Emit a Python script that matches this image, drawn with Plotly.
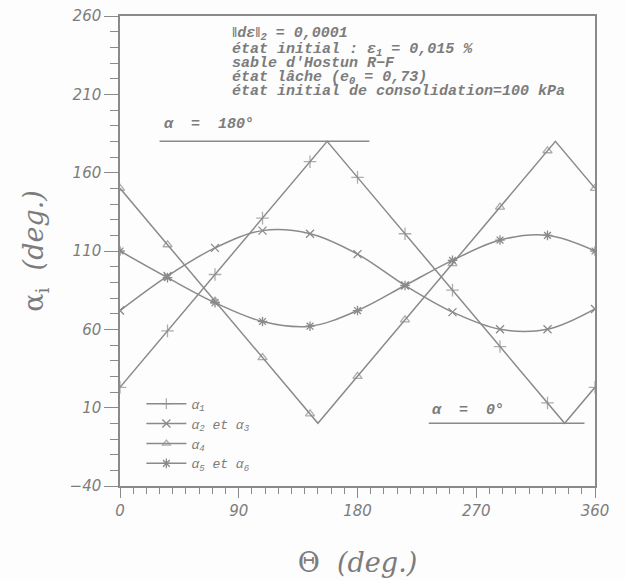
import plotly.graph_objects as go

# Loading direction Theta (deg.) at which the response directions were computed
theta_grid = [0, 36, 72, 108, 144, 180, 216, 252, 288, 324, 360]

# alpha_1 : piecewise linear, folds at 180 deg (Theta=157) and 0 deg (Theta=337)
theta_a1 = [0, 36, 72, 108, 144, 157, 180, 216, 252, 288, 324, 337, 360]
alpha_1 = [23, 59, 95, 131, 167, 180, 157, 121, 85, 49, 13, 0, 23]

# alpha_2 et alpha_3
alpha_23 = [72, 94, 112, 123, 121, 108, 88, 71, 60, 60, 73]

# alpha_4 : piecewise linear, folds at 0 deg (Theta=150) and 180 deg (Theta=330)
theta_a4 = [0, 36, 72, 108, 144, 150, 180, 216, 252, 288, 324, 330, 360]
alpha_4 = [150, 114, 78, 42, 6, 0, 30, 66, 102, 138, 174, 180, 150]

# alpha_5 et alpha_6
alpha_56 = [110, 93, 77, 65, 62, 72, 88, 104, 117, 120, 110]

# limit lines alpha = 180 deg and alpha = 0 deg
lim_180_theta = [30, 189]
lim_0_theta = [234, 352]

LINE = "#8a8a8a"
TEXT = "#7c7c7c"
MONO = "Liberation Mono"


def sizes(thetas, s):
    # markers only on the regular Theta grid, not on the fold points
    return [s if t in theta_grid else 0 for t in thetas]


fig = go.Figure()

fig.add_trace(go.Scatter(
    x=theta_a1, y=alpha_1, mode="lines+markers", name="α<sub>1</sub>",
    line=dict(color=LINE, width=1.5),
    marker=dict(symbol="cross-thin-open", size=sizes(theta_a1, 9),
                color=LINE, line=dict(color=LINE, width=1.3)),
))
fig.add_trace(go.Scatter(
    x=theta_grid, y=alpha_23, mode="lines+markers",
    name="α<sub>2</sub> et α<sub>3</sub>",
    line=dict(color=LINE, width=1.5, shape="spline", smoothing=1.0),
    marker=dict(symbol="x-thin-open", size=8, color=LINE,
                line=dict(color=LINE, width=1.3)),
))
fig.add_trace(go.Scatter(
    x=theta_a4, y=alpha_4, mode="lines+markers", name="α<sub>4</sub>",
    line=dict(color=LINE, width=1.5),
    marker=dict(symbol="triangle-up-open", size=sizes(theta_a4, 8),
                color=LINE, line=dict(color=LINE, width=1.3)),
))
fig.add_trace(go.Scatter(
    x=theta_grid, y=alpha_56, mode="lines+markers",
    name="α<sub>5</sub> et α<sub>6</sub>",
    line=dict(color=LINE, width=1.5, shape="spline", smoothing=1.0),
    marker=dict(symbol="asterisk-open", size=8, color=LINE,
                line=dict(color=LINE, width=1.3)),
))

# bounding lines of the angle range
fig.add_trace(go.Scatter(x=lim_180_theta, y=[180, 180], mode="lines",
                         line=dict(color=LINE, width=1.5), showlegend=False,
                         hoverinfo="skip"))
fig.add_trace(go.Scatter(x=lim_0_theta, y=[0, 0], mode="lines",
                         line=dict(color=LINE, width=1.5), showlegend=False,
                         hoverinfo="skip"))

mono_font = dict(family=MONO, size=15, color=TEXT, style="italic", weight="bold")

info_lines = [
    "‖dε‖<sub>2</sub> = 0,0001",
    "état initial : ε<sub>1</sub> = 0,015 %",
    "sable d'Hostun R−F",
    "état lâche (e<sub>0</sub> = 0,73)",
    "état initial de consolidation=100 kPa",
]
info_y = [248.2, 238.6, 229.8, 220.5, 211.6]
for txt, yy in zip(info_lines, info_y):
    fig.add_annotation(x=83, y=yy, xref="x", yref="y", text=txt,
                       showarrow=False, xanchor="left", yanchor="middle",
                       font=mono_font)

fig.add_annotation(x=32, y=190.7, xref="x", yref="y", text="α  =  180°",
                   showarrow=False, xanchor="left", yanchor="middle",
                   font=mono_font)
fig.add_annotation(x=235, y=8, xref="x", yref="y", text="α  =  0°",
                   showarrow=False, xanchor="left", yanchor="middle",
                   font=mono_font)

tick_font = dict(family="DejaVu Sans", size=15, color=TEXT, style="italic")
title_font = dict(family="DejaVu Serif", size=27, color=TEXT)

fig.update_layout(
    width=625, height=580,
    margin=dict(l=120, r=30, t=16, b=94),
    paper_bgcolor="#fdfdfd", plot_bgcolor="#fdfdfd",
    showlegend=True,
    legend=dict(x=0.045, y=0.207, xanchor="left", yanchor="top",
                bgcolor="rgba(0,0,0,0)",
                font=dict(family=MONO, size=13, color=TEXT, style="italic"),
                itemwidth=40, tracegroupgap=0),
    xaxis=dict(range=[0, 360], tickvals=[0, 90, 180, 270, 360],
               automargin=False,
               showgrid=False, zeroline=False, showline=True,
               linecolor=LINE, linewidth=1.5, mirror=True,
               ticks="outside", ticklen=10, tickwidth=1.2, tickcolor=LINE,
               minor=dict(dtick=10, ticks="outside", ticklen=6,
                          tickcolor=LINE, tickwidth=1),
               tickfont=tick_font,
               title=dict(text="Θ  <i>(deg.)</i>", font=title_font,
                          standoff=34)),
    yaxis=dict(range=[-40, 260], tickvals=[-40, 10, 60, 110, 160, 210, 260],
               automargin=False,
               showgrid=False, zeroline=False, showline=True,
               linecolor=LINE, linewidth=1.5, mirror=True,
               ticks="outside", ticklen=14, tickwidth=1.2, tickcolor=LINE,
               minor=dict(dtick=10, ticks="outside", ticklen=8,
                          tickcolor=LINE, tickwidth=1),
               tickfont=tick_font,
               title=dict(text="α<sub>i</sub>  <i>(deg.)</i>", font=title_font,
                          standoff=18)),
)

fig.write_html("out.html")
